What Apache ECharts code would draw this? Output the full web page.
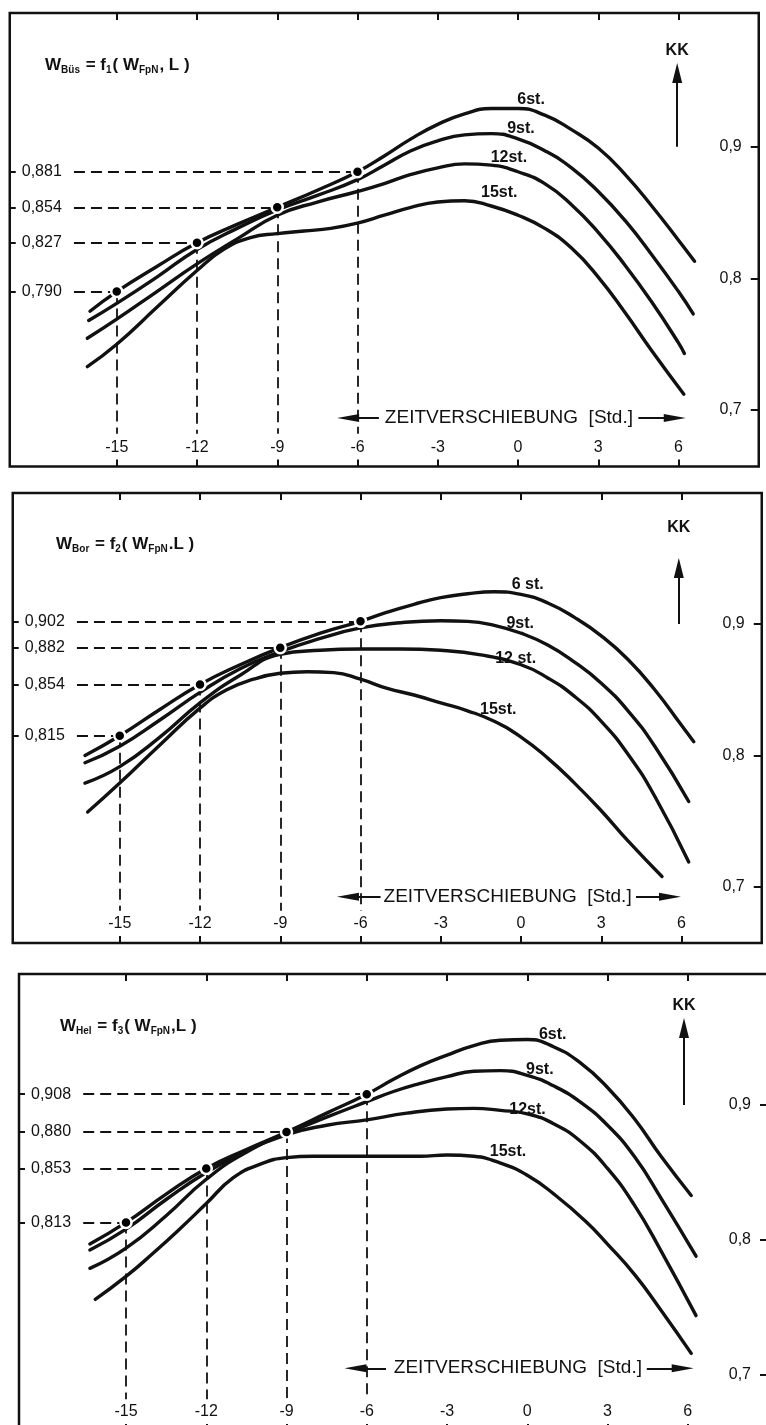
<!DOCTYPE html>
<html><head><meta charset="utf-8">
<script src="https://cdn.jsdelivr.net/npm/echarts@6/dist/echarts.min.js"></script>
<style>
html,body{margin:0;padding:0;background:#fff;overflow:hidden;width:766px;height:1425px}
#c{width:782px;height:1445px}
</style></head>
<body><div id="c"></div>
<script>
const FONT = '"Liberation Sans", Arial, sans-serif';
const INK = '#111';

// ---- shared axis values ----
const xTicks = [-15, -12, -9, -6, -3, 0, 3, 6];
const kkTicks = [0.7, 0.8, 0.9];
const dotX = [-15, -12, -9, -6];
const zeitText = 'ZEITVERSCHIEBUNG  [Std.]';

// ---- Panel 1: W_Büs = f1(W_FpN, L) ----
const bus6  = [[-16.0,0.775],[-15,0.790],[-13.5,0.809],[-12,0.827],[-10.5,0.841],[-9,0.854],[-7.5,0.867],[-6,0.881],[-5,0.893],[-4,0.906],[-3,0.917],[-2,0.925],[-1,0.929],[0,0.929],[1,0.924],[2,0.913],[3,0.899],[4,0.879],[5,0.855],[6,0.829],[6.6,0.813]];
const bus9  = [[-16.05,0.768],[-15,0.781],[-13.5,0.801],[-12,0.822],[-10.5,0.838],[-9,0.852],[-7.5,0.863],[-6,0.875],[-5,0.886],[-4,0.897],[-3,0.9045],[-2,0.909],[-1,0.910],[0,0.906],[1,0.897],[2,0.884],[3,0.866],[4,0.844],[5,0.818],[6,0.790],[6.55,0.773]];
const bus12 = [[-16.1,0.7545],[-15,0.769],[-13.5,0.790],[-12,0.811],[-10.5,0.830],[-9,0.848],[-7.5,0.858],[-6,0.866],[-5,0.872],[-4,0.879],[-3,0.884],[-2,0.887],[-1,0.886],[0,0.881],[1,0.872],[2,0.856],[3,0.835],[4,0.810],[5,0.782],[6,0.751],[6.22,0.743]];
const bus15 = [[-16.1,0.733],[-15,0.750],[-13.5,0.778],[-12,0.806],[-11,0.822],[-10,0.831],[-9,0.834],[-8,0.836],[-7,0.838],[-6,0.842],[-5,0.848],[-4,0.854],[-3,0.858],[-2,0.859],[-1,0.855],[0,0.848],[1,0.838],[2,0.823],[3,0.801],[4,0.774],[5,0.745],[6.2,0.712]];
const busDots = [0.790, 0.827, 0.854, 0.881];
const busNames = ['6st.', '9st.', '12st.', '15st.'];

// ---- Panel 2: W_Bor = f2(W_FpN, L) ----
const bor6  = [[-16.3,0.800],[-15,0.815],[-13.5,0.835],[-12,0.854],[-10.5,0.869],[-9,0.882],[-7.5,0.893],[-6,0.902],[-5,0.909],[-4,0.915],[-3,0.920],[-2,0.923],[-1,0.9245],[0,0.9225],[1,0.916],[2,0.905],[3,0.891],[4,0.873],[5,0.850],[6,0.823],[6.46,0.8105]];
const bor9  = [[-16.3,0.7945],[-15,0.807],[-13.5,0.827],[-12,0.848],[-10.5,0.866],[-9,0.879],[-7.5,0.889],[-6,0.897],[-4.5,0.901],[-3,0.9025],[-2,0.902],[-1,0.899],[0,0.893],[1,0.884],[2,0.871],[3,0.855],[4,0.834],[5,0.807],[6.27,0.765]];
const bor12 = [[-16.3,0.779],[-15,0.7915],[-13.5,0.814],[-12,0.840],[-10.5,0.861],[-9,0.877],[-7.5,0.880],[-6,0.881],[-4.5,0.881],[-3,0.880],[-1.5,0.8765],[0,0.869],[1,0.859],[2,0.845],[3,0.826],[4,0.801],[5,0.769],[6.27,0.719]];
const bor15 = [[-16.2,0.757],[-15,0.779],[-13.5,0.808],[-12,0.836],[-11,0.850],[-10,0.858],[-9,0.8625],[-8,0.8637],[-7,0.863],[-6,0.858],[-5,0.851],[-4,0.846],[-3,0.840],[-2,0.834],[-1,0.826],[0,0.814],[1,0.798],[2,0.779],[3,0.758],[4,0.735],[5.27,0.708]];
const borDots = [0.815, 0.854, 0.882, 0.902];
const borNames = ['6 st.', '9st.', '12 st.', '15st.'];

// ---- Panel 3: W_Hel = f3(W_FpN, L) ----
const hel6  = [[-16.35,0.797],[-15,0.813],[-13.5,0.834],[-12,0.853],[-10.5,0.867],[-9,0.880],[-7.5,0.894],[-6,0.908],[-5,0.919],[-4,0.929],[-3,0.937],[-2,0.944],[-1,0.948],[0,0.9485],[1,0.943],[2,0.931],[3,0.913],[4,0.890],[5,0.862],[6.13,0.833]];
const hel9  = [[-16.35,0.7926],[-15,0.808],[-13.5,0.830],[-12,0.850],[-10.5,0.866],[-9,0.879],[-7.5,0.891],[-6,0.9025],[-5,0.910],[-4,0.916],[-3,0.921],[-2,0.925],[-1,0.9255],[0,0.922],[1,0.914],[2,0.902],[3,0.885],[4,0.862],[5,0.831],[6.31,0.788]];
const hel12 = [[-16.35,0.779],[-15,0.794],[-13.5,0.818],[-12,0.845],[-10.5,0.865],[-9,0.878],[-7.5,0.885],[-6,0.889],[-4.5,0.894],[-3,0.897],[-2,0.8975],[-1,0.896],[0,0.8935],[1,0.886],[2,0.873],[3,0.853],[4,0.826],[5,0.792],[6.31,0.744]];
const hel15 = [[-16.15,0.756],[-15,0.773],[-14,0.790],[-13,0.808],[-12,0.827],[-11,0.846],[-10,0.856],[-9,0.861],[-8,0.862],[-6,0.862],[-4,0.862],[-3,0.863],[-2,0.862],[-1,0.857],[0,0.848],[1,0.834],[2.2,0.8136],[3,0.797],[4.03,0.774],[5,0.748],[6.13,0.716]];
const helDots = [0.813, 0.853, 0.880, 0.908];
const helNames = ['6st.', '9st.', '12st.', '15st.'];

// ---- layout (positions / sizes only) ----
const layout = [
  { grid:{left:9.75, top:13, width:749, height:453.5}, yMin:0.6571, yMax:1.0016,
    title:{left:40, top:50}, sub:['Büs','1'], sep:', L )',
    labelPos:[[0.49,0.9355],[0.11,0.914],[-0.34,0.8915],[-0.7,0.865]],
    zeit:{y:0.694, textX:-0.34, left:[-5.2,-6.35], right:[4.5,5.86]},
    kk:{x:5.95, end:0.956, text:0.9734} },
  { grid:{left:12.75, top:493, width:749, height:450}, yMin:0.65741, yMax:0.99962,
    title:{left:51, top:529}, sub:['Bor','2'], sep:'.L )',
    labelPos:[[0.25,0.9297],[-0.03,0.9005],[-0.2,0.8735],[-0.85,0.8346]],
    zeit:{y:0.6926, textX:-0.5, left:[-5.25,-6.47], right:[4.3,5.57]},
    kk:{x:5.9, end:0.9425, text:0.973} },
  { grid:{left:19, top:974, width:749, height:457}, yMin:0.65852, yMax:0.99704,
    title:{left:55, top:1011}, sub:['Hel','3'], sep:',L )',
    labelPos:[[0.95,0.9525],[0.47,0.926],[0.01,0.8965],[-0.72,0.8654]],
    zeit:{y:0.705, textX:-0.35, left:[-5.28,-6.42], right:[4.47,5.81]},
    kk:{x:5.86, end:0.957, text:0.974} }
];
const dashStart = -16.6;
const vertEnd = 0.682;

const panelsData = [
  {curves:[bus6,bus9,bus12,bus15], dots:busDots, names:busNames},
  {curves:[bor6,bor9,bor12,bor15], dots:borDots, names:borNames},
  {curves:[hel6,hel9,hel12,hel15], dots:helDots, names:helNames}
];

const fmtX = v => (v < 0 ? '-' + Math.abs(v) : String(v));
const fmtY1 = v => v.toFixed(1).replace('.', ',');
const fmtY3 = v => v.toFixed(3).replace('.', ',');

const grids = [], xAxes = [], yAxes = [], series = [], titles = [];

function textSeries(xi, yi, items, font) {
  return {type:'scatter', xAxisIndex:xi, yAxisIndex:yi, silent:true, z:6, symbolSize:1,
    itemStyle:{color:'#fff', opacity:1}, data:items,
    label:Object.assign({show:true, position:'inside', formatter:'{b}', color:INK, fontFamily:FONT,
      textBorderWidth:0, opacity:1}, font)};
}

panelsData.forEach((pd, p) => {
  const L = layout[p];
  grids.push(Object.assign({show:true, borderColor:INK, borderWidth:2.5, backgroundColor:'transparent', containLabel:false}, L.grid));
  const common = {type:'value', gridIndex:p, min:-19, max:9, axisLine:{show:false, onZero:false}, splitLine:{show:false}};
  xAxes.push(Object.assign({}, common, {position:'bottom',
    axisTick:{show:true, inside:true, length:7, customValues:xTicks, lineStyle:{color:INK, width:2}},
    axisLabel:{show:true, inside:true, margin:11, customValues:xTicks, formatter:fmtX, fontSize:16, color:INK, fontFamily:FONT}}));
  xAxes.push(Object.assign({}, common, {position:'top',
    axisTick:{show:true, inside:true, length:7, customValues:xTicks, lineStyle:{color:INK, width:2}},
    axisLabel:{show:false}}));
  const yc = {type:'value', gridIndex:p, min:L.yMin, max:L.yMax, axisLine:{show:false, onZero:false}, splitLine:{show:false}};
  yAxes.push(Object.assign({}, yc, {position:'right',
    axisTick:{show:true, inside:true, length:8, customValues:kkTicks, lineStyle:{color:INK, width:2}},
    axisLabel:{show:true, inside:true, margin:17, customValues:kkTicks, formatter:fmtY1, fontSize:16, color:INK, fontFamily:FONT}}));
  yAxes.push(Object.assign({}, yc, {position:'left',
    axisTick:{show:true, inside:true, length:6, customValues:pd.dots, lineStyle:{color:INK, width:2}},
    axisLabel:{show:true, inside:true, margin:12, customValues:pd.dots, formatter:fmtY3, fontSize:16, color:INK, fontFamily:FONT}}));

  const xi = p * 2, yi = p * 2;

  // dashed guide lines
  const guides = [];
  pd.dots.forEach((v, i) => {
    guides.push([{coord:[dashStart, v]}, {coord:[dotX[i], v]}]);
    guides.push([{coord:[dotX[i], v]}, {coord:[dotX[i], vertEnd]}]);
  });
  series.push({type:'scatter', xAxisIndex:xi, yAxisIndex:yi, data:[], silent:true, z:1,
    markLine:{silent:true, animation:false, symbol:['none','none'], label:{show:false},
      lineStyle:{type:[11,6], width:1.8, color:INK}, emphasis:{disabled:true}, data:guides}});

  // curves
  pd.curves.forEach((c, i) => {
    series.push({type:'line', name:pd.names[i], xAxisIndex:xi, yAxisIndex:yi, data:c, smooth:0.5,
      showSymbol:false, silent:true, z:3,
      lineStyle:{color:INK, width:3.4, cap:'round', join:'round'}});
  });

  // dots (white ring gives the broken look around each point)
  series.push({type:'scatter', xAxisIndex:xi, yAxisIndex:yi, silent:true, z:5,
    data:dotX.map((x, i) => [x, pd.dots[i]]), symbolSize:11,
    itemStyle:{color:'#000', opacity:1, borderColor:'#fff', borderWidth:2.5}});

  // curve labels
  series.push(textSeries(xi, yi, pd.names.map((n, i) => ({name:n, value:L.labelPos[i]})),
    {fontSize:16, fontWeight:'bold'}));
  // Zeitverschiebung text
  series.push(textSeries(xi, yi, [{name:zeitText, value:[L.zeit.textX, L.zeit.y]}], {fontSize:19}));
  // KK
  series.push(textSeries(xi, yi, [{name:'KK', value:[L.kk.x, L.kk.text]}], {fontSize:16, fontWeight:'bold'}));

  // arrows
  series.push({type:'scatter', xAxisIndex:xi, yAxisIndex:yi, data:[], silent:true, z:6,
    markLine:{silent:true, animation:false, symbol:['none','triangle'], symbolSize:[8,22],
      lineStyle:{type:'solid', width:2, color:INK}, itemStyle:{color:INK}, label:{show:false},
      emphasis:{disabled:true},
      data:[
        [{coord:[L.zeit.left[0], L.zeit.y]}, {coord:[L.zeit.left[1], L.zeit.y]}],
        [{coord:[L.zeit.right[0], L.zeit.y]}, {coord:[L.zeit.right[1], L.zeit.y]}]
      ]}});
  series.push({type:'scatter', xAxisIndex:xi, yAxisIndex:yi, data:[], silent:true, z:6,
    markLine:{silent:true, animation:false, symbol:['none','triangle'], symbolSize:[10,20],
      lineStyle:{type:'solid', width:2, color:INK}, itemStyle:{color:INK},
      emphasis:{disabled:true}, label:{show:false},
      data:[[{coord:[L.kk.x, 0.9]}, {coord:[L.kk.x, L.kk.end]}]]}});

  // title with subscripts
  titles.push({left:L.title.left, top:L.title.top,
    text:'{m|W}{s|' + L.sub[0] + '}{m| = f}{s|' + L.sub[1] + '}{m|( W}{s|FpN}{m|' + L.sep + '}',
    textStyle:{rich:{
      m:{fontSize:17, color:INK, fontFamily:FONT, verticalAlign:'middle'},
      s:{fontSize:10, color:INK, fontFamily:FONT, fontWeight:'bold', padding:[10,1,0,0], verticalAlign:'middle'}
    }}});
});

const chart = echarts.init(document.getElementById('c'), null, {renderer:'canvas'});
chart.setOption({
  animation:false,
  backgroundColor:'#fff',
  title:titles,
  grid:grids,
  xAxis:xAxes,
  yAxis:yAxes,
  series:series
});
</script>
</body></html>
